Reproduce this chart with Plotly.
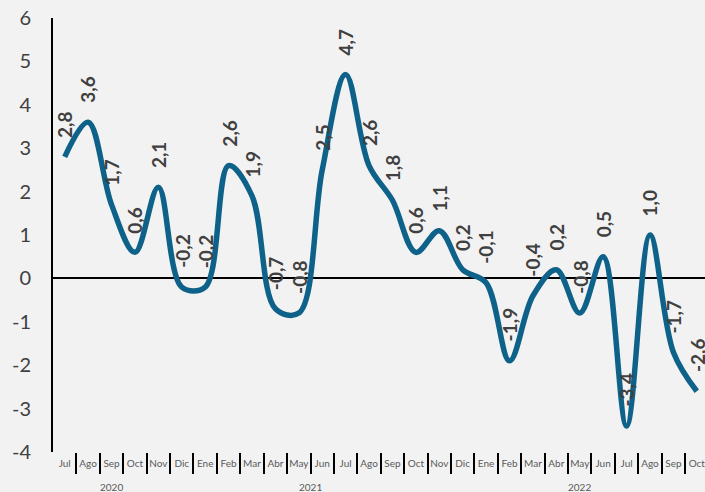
import plotly.graph_objects as go

months = ["Jul", "Ago", "Sep", "Oct", "Nov",
          "Dic", "Ene", "Feb", "Mar", "Abr", "May", "Jun", "Jul", "Ago", "Sep", "Oct", "Nov",
          "Dic", "Ene", "Feb", "Mar", "Abr", "May", "Jun", "Jul", "Ago", "Sep", "Oct"]
years = ["2020", "2021", "2022"]
year_sizes = [5, 12, 11]
values = [2.8, 3.6, 1.7, 0.6, 2.1, -0.2, -0.2, 2.6, 1.9, -0.7, -0.8, 2.5, 4.7, 2.6,
          1.8, 0.6, 1.1, 0.2, -0.1, -1.9, -0.4, 0.2, -0.8, 0.5, -3.4, 1.0, -1.7, -2.6]
y_ticks = [-4, -3, -2, -1, 0, 1, 2, 3, 4, 5, 6]

n = len(months)
xs = list(range(n))
bounds = [i + 0.5 for i in range(n - 1)]
year_bounds = [-0.5]
year_centers = []
start = 0
for s in year_sizes:
    year_centers.append(start + (s - 1) / 2)
    start += s
    if start < n:
        year_bounds.append(start - 0.5)

LINE = "#0e6289"
TXT = "#404040"
FONT = "Lato"
xr = [-0.5, 27.35]

fig = go.Figure()
fig.add_trace(go.Scatter(
    x=xs, y=values, mode="lines",
    line=dict(color=LINE, width=5.5, shape="spline", smoothing=1.0),
    hoverinfo="skip", showlegend=False,
))

annotations = []
for i, v in enumerate(values):
    annotations.append(dict(
        x=i, y=v, xref="x", yref="y",
        text="<b>" + f"{v:.1f}".replace(".", ",") + "</b>",
        showarrow=False, textangle=-90,
        xanchor="center", yanchor="bottom", yshift=17,
        font=dict(family=FONT, size=19, color=TXT),
    ))
for yr, c in zip(years, year_centers):
    annotations.append(dict(
        x=c, y=0, xref="x", yref="paper", text=yr, showarrow=False,
        xanchor="center", yanchor="middle", yshift=-35,
        font=dict(family=FONT, size=10, color="#595959"),
    ))

fig.update_layout(
    width=705, height=492,
    margin=dict(l=53, r=0, t=18, b=40),
    paper_bgcolor="#f2f2f2", plot_bgcolor="#f2f2f2",
    font=dict(family=FONT, color=TXT),
    showlegend=False,
    annotations=annotations,
    xaxis=dict(
        range=xr, tickmode="array", tickvals=xs, ticktext=months,
        ticks="", showgrid=False, zeroline=False, showline=False,
        ticklabeloverflow="allow", ticklabelstandoff=4,
        tickfont=dict(family=FONT, size=10, color="#595959"),
        minor=dict(tickmode="array", tickvals=bounds, ticks="outside",
                   ticklen=21, tickwidth=2, tickcolor="black", showgrid=False),
    ),
    xaxis2=dict(
        range=xr, overlaying="x", anchor="y", side="bottom",
        tickmode="array", tickvals=year_bounds, ticks="outside",
        ticklen=40, tickwidth=2, tickcolor="black",
        showticklabels=False, showgrid=False, zeroline=False, showline=False,
    ),
    xaxis3=dict(
        range=xr, overlaying="x", anchor="free", position=0.4, side="bottom",
        tickmode="array", tickvals=bounds, ticks="outside",
        ticklen=4, tickwidth=1.5, tickcolor="black",
        showticklabels=False, showgrid=False, zeroline=False, showline=False,
    ),
    yaxis=dict(
        range=[-4, 6], tickmode="array", tickvals=y_ticks,
        ticktext=[str(t) for t in y_ticks],
        showgrid=False, zeroline=True, zerolinecolor="black", zerolinewidth=1.5,
        showline=True, linecolor="black", linewidth=2,
        ticks="", ticklabelstandoff=16,
        tickfont=dict(family=FONT, size=20, color=TXT),
    ),
)

fig.write_html(
    "out.html",
    config={"displayModeBar": False},
    post_script="document.body.style.margin='0';document.body.style.background='#f2f2f2';",
)
